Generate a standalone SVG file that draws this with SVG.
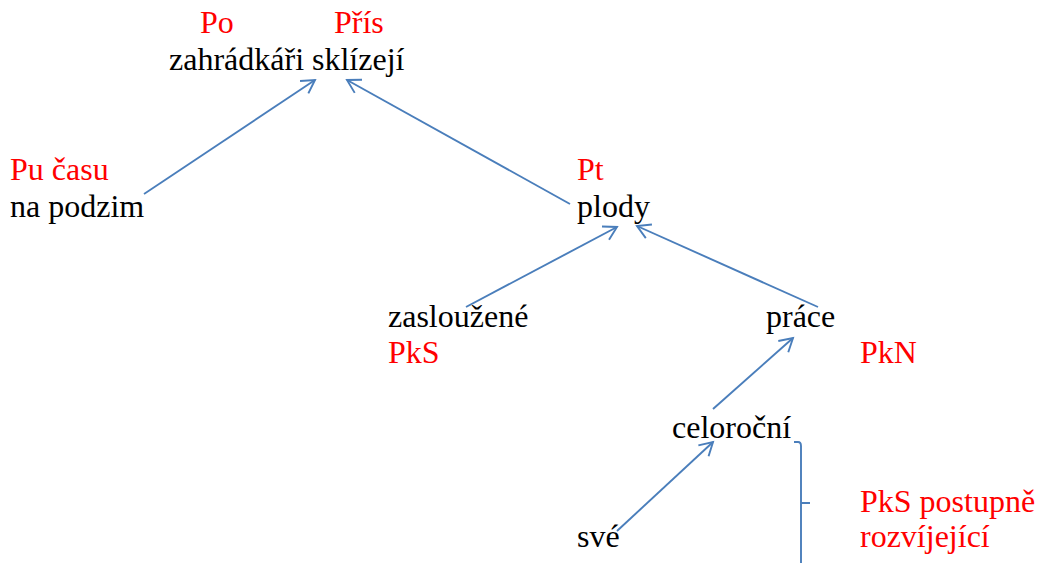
<svg xmlns="http://www.w3.org/2000/svg" width="1039" height="563" viewBox="0 0 1039 563">
<style>
text{font-family:'Liberation Serif','Times New Roman','DejaVu Serif',serif;font-size:32px}
.b{fill:#000}
.r{fill:#ff0000}
.c{stroke:#4a7ebb;stroke-width:1.9;fill:none}
</style>
<defs>
<marker id="ah" markerUnits="userSpaceOnUse" markerWidth="18" markerHeight="18" refX="14" refY="9" orient="auto" viewBox="0 0 18 18">
<path d="M1,1.5 L14,9 L1,16.5" fill="none" stroke="#4a7ebb" stroke-width="1.9"/>
</marker>
</defs>
<rect width="1039" height="563" fill="#fff"/>
<g id="connectors">
<line class="c" x1="144" y1="194" x2="315" y2="80" marker-end="url(#ah)"/>
<line class="c" x1="570" y1="204" x2="347" y2="80" marker-end="url(#ah)"/>
<line class="c" x1="466" y1="307" x2="617" y2="227" marker-end="url(#ah)"/>
<line class="c" x1="818" y1="307" x2="637" y2="226" marker-end="url(#ah)"/>
<line class="c" x1="713" y1="409" x2="793" y2="338" marker-end="url(#ah)"/>
<line class="c" x1="617" y1="531" x2="713" y2="442" marker-end="url(#ah)"/>
<path class="c" d="M794,442 L798,442 Q801,442 801,446 L801,563 M801,503 L810,503"/>
</g>
<g id="n-root">
<text class="r" x="200" y="33">Po</text>
<text class="r" x="334" y="33">Přís</text>
<text class="b" x="169" y="70">zahrádkáři sklízejí</text>
</g>
<g id="n-podzim">
<text class="r" x="10" y="180">Pu času</text>
<text class="b" x="10" y="217">na podzim</text>
</g>
<g id="n-plody">
<text class="r" x="577" y="180">Pt</text>
<text class="b" x="577" y="217">plody</text>
</g>
<g id="n-zaslouzene">
<text class="b" x="388" y="327">zasloužené</text>
<text class="r" x="388" y="363">PkS</text>
</g>
<g id="n-prace">
<text class="b" x="766" y="327">práce</text>
<text class="r" x="860" y="363">PkN</text>
</g>
<g id="n-celorocni">
<text class="b" x="672" y="438">celoroční</text>
</g>
<g id="n-sve">
<text class="b" x="577" y="547">své</text>
</g>
<g id="n-label">
<text class="r" x="860" y="512">PkS postupně</text>
<text class="r" x="860" y="547">rozvíjející</text>
</g>
</svg>
